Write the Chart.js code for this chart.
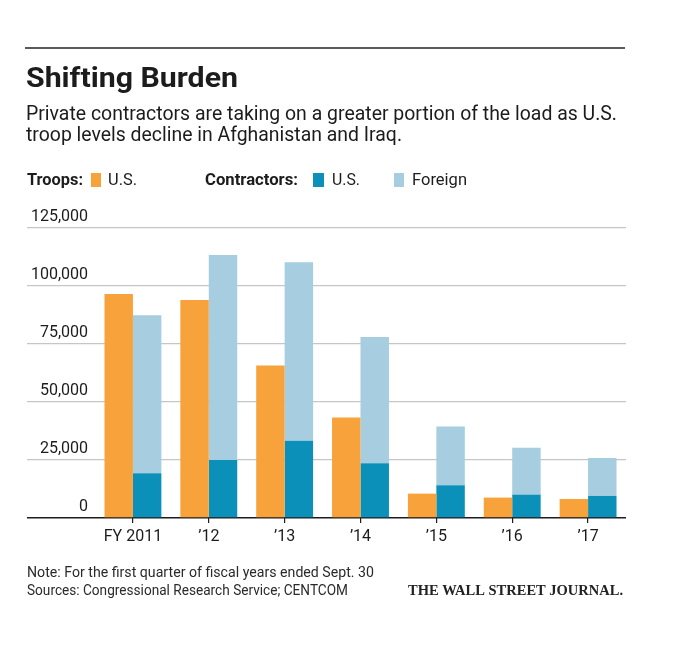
<!DOCTYPE html>
<html>
<head>
<meta charset="utf-8">
<script src="https://cdn.jsdelivr.net/npm/chart.js@4.4.1/dist/chart.umd.min.js"></script>
<style>
  html, body { margin: 0; padding: 0; background: #ffffff; }
  #wrap { position: relative; width: 678px; height: 648px; }
</style>
</head>
<body>
<div id="wrap"><canvas id="c"></canvas></div>
<script>
// ---- data ----
const categories = ["FY 2011", "\u201912", "\u201913", "\u201914", "\u201915", "\u201916", "\u201917"];
const troopsUS = [96500, 94000, 65700, 43300, 10500, 8800, 8200];
const contractorsUS = [19300, 25000, 33300, 23600, 14100, 10100, 9500];
const contractorsForeign = [68100, 88400, 76900, 54400, 25300, 20200, 16400];
const yMin = 0;
const yMax = 125000;
const yStep = 25000;

const titleText = "Shifting Burden";
const subtitleLines = [
  "Private contractors are taking on a greater portion of the load as U.S.",
  "troop levels decline in Afghanistan and Iraq."
];
const noteLines = [
  "Note: For the first quarter of fiscal years ended Sept. 30",
  "Sources: Congressional Research Service; CENTCOM"
];
const creditText = "THE WALL STREET JOURNAL.";

// ---- styles ----
const COLORS = { troops: "#F8A23B", cUS: "#0A90B9", cForeign: "#A7CDE0", text: "#1c1c1c", grid: "#c6c6c6", axis: "#1c1c1c" };
const SANS = "Roboto, 'Open Sans', 'Liberation Sans', sans-serif";

function fitText(ctx, text, x, y, font, width, color) {
  ctx.save();
  ctx.font = font;
  ctx.textBaseline = "alphabetic";
  ctx.textAlign = "left";
  const w = ctx.measureText(text).width;
  ctx.translate(x, y);
  if (width && w > 0) ctx.scale(width / w, 1);
  ctx.fillStyle = color;
  ctx.fillText(text, 0, 0);
  ctx.restore();
}

const decorPlugin = {
  id: "decor",
  beforeDraw(chart) {
    const ctx = chart.ctx;
    ctx.save();
    ctx.fillStyle = "#ffffff";
    ctx.fillRect(0, 0, chart.width, chart.height);
    ctx.restore();
  },
  afterDraw(chart) {
    const ctx = chart.ctx;
    // top rule
    ctx.save();
    ctx.strokeStyle = "#5a5a5a";
    ctx.lineWidth = 2;
    ctx.beginPath();
    ctx.moveTo(25, 48);
    ctx.lineTo(625, 48);
    ctx.stroke();
    ctx.restore();

    fitText(ctx, titleText, 26, 87, "bold 28px " + SANS, 212, COLORS.text);
    fitText(ctx, subtitleLines[0], 26, 120, "20px " + SANS, 591, COLORS.text);
    fitText(ctx, subtitleLines[1], 26, 141, "20px " + SANS, 376, COLORS.text);

    // legend
    const ly = 185;
    fitText(ctx, "Troops:", 27, ly, "bold 17px " + SANS, 56, COLORS.text);
    ctx.fillStyle = COLORS.troops; ctx.fillRect(91, 173, 10, 14);
    fitText(ctx, "U.S.", 108, ly, "17px " + SANS, 29, COLORS.text);
    fitText(ctx, "Contractors:", 205, ly, "bold 17px " + SANS, 93, COLORS.text);
    ctx.fillStyle = COLORS.cUS; ctx.fillRect(313, 173, 11, 14);
    fitText(ctx, "U.S.", 332, ly, "17px " + SANS, 28, COLORS.text);
    ctx.fillStyle = COLORS.cForeign; ctx.fillRect(394, 173, 10, 14);
    fitText(ctx, "Foreign", 412, ly, "17px " + SANS, 55, COLORS.text);

    // footer
    fitText(ctx, noteLines[0], 27, 577, "14px " + SANS, 347, "#2a2a2a");
    fitText(ctx, noteLines[1], 27, 595, "14px " + SANS, 321, "#2a2a2a");
    fitText(ctx, creditText, 408, 595, "bold 15px 'Liberation Serif', 'DejaVu Serif', serif", 215, "#222222");
  }
};

const ctxEl = document.getElementById("c");
new Chart(ctxEl, {
  type: "bar",
  data: {
    labels: categories,
    datasets: [
      { label: "Troops: U.S.", data: troopsUS, backgroundColor: COLORS.troops, stack: "troops" },
      { label: "Contractors: U.S.", data: contractorsUS, backgroundColor: COLORS.cUS, stack: "contractors" },
      { label: "Contractors: Foreign", data: contractorsForeign, backgroundColor: COLORS.cForeign, stack: "contractors" }
    ]
  },
  options: {
    responsive: true,
    maintainAspectRatio: false,
    animation: false,
    layout: { padding: { top: 228, left: 27, right: 52, bottom: 90 } },
    datasets: { bar: { categoryPercentage: 0.75, barPercentage: 1.0, borderWidth: 0 } },
    plugins: { legend: { display: false }, tooltip: { enabled: false }, title: { display: false } },
    scales: {
      x: {
        stacked: true,
        offset: true,
        afterFit: s => { s.height = 40; },
        grid: { display: true, drawOnChartArea: false, drawTicks: true, tickLength: 5, color: COLORS.axis, lineWidth: 1.2, offset: false },
        border: { display: false },
        ticks: { color: COLORS.text, font: { family: SANS, size: 16 }, padding: 4, maxRotation: 0, autoSkip: false }
      },
      y: {
        stacked: true,
        min: yMin,
        max: yMax,
        afterFit: s => { s.width = 68; },
        grid: {
          drawTicks: true,
          tickLength: 68,
          color: c => (c.tick && c.tick.value === 0) ? COLORS.axis : COLORS.grid,
          lineWidth: c => (c.tick && c.tick.value === 0) ? 1.6 : 1.2
        },
        border: { display: false },
        ticks: {
          stepSize: yStep,
          color: COLORS.text,
          font: { family: SANS, size: 16 },
          padding: -61,
          labelOffset: -11,
          callback: v => v.toLocaleString("en-US")
        }
      }
    }
  },
  plugins: [decorPlugin]
});
</script>
</body>
</html>
